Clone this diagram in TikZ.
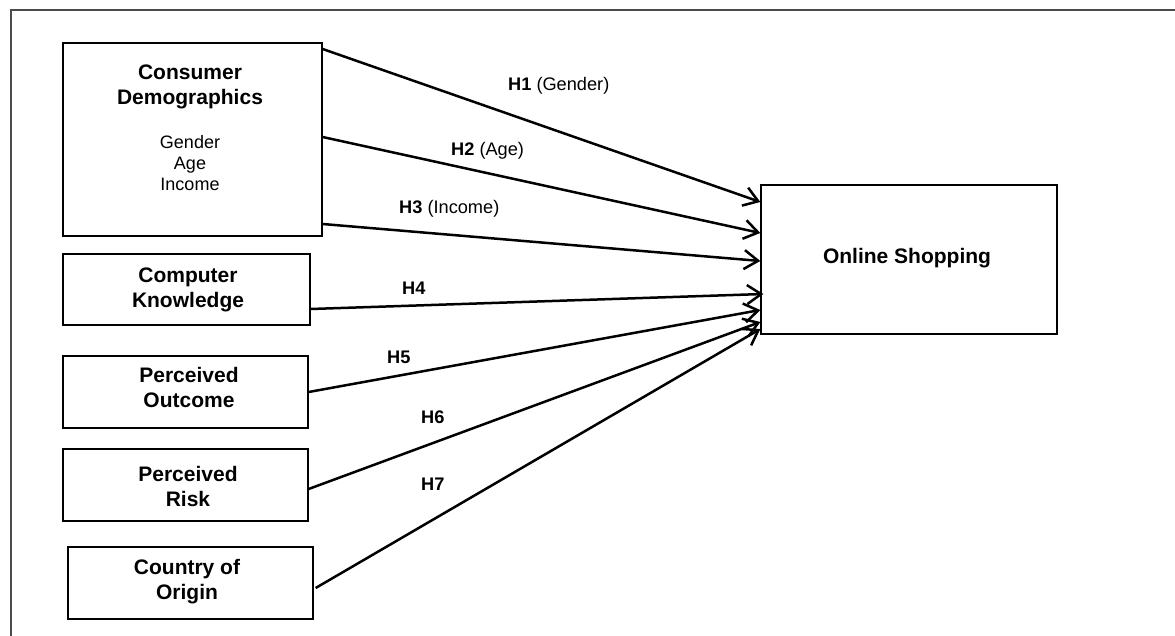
\documentclass[tikz,border=0pt]{standalone}
\usepackage{fontspec}
\setmainfont{Liberation Sans}
\usetikzlibrary{arrows.meta}
\begin{document}
\begin{tikzpicture}[x=1pt,y=-1pt,
  box/.style={draw, line width=1.3pt, inner sep=0pt},
  title/.style={font=\fontsize{21}{25}\selectfont\bfseries, align=center, inner sep=0pt},
  items/.style={font=\fontsize{18}{21}\selectfont, align=center, inner sep=0pt},
  hlabel/.style={font=\fontsize{18.2}{21}\selectfont, anchor=west, inner sep=0pt},
  conn/.style={line width=2.5pt, -{Straight Barb[length=14pt,width=19pt]}},
  frame/.style={draw=black!70, line width=1.5pt}]
\useasboundingbox (0,0) rectangle (1175,636);
% outer frame (top and left edges)
\coordinate (fa) at (11,10);
\coordinate (fb) at (1175,10);
\coordinate (fc) at (11,636);
\draw[frame] (fb) -- (fa) -- (fc);
% boxes
\node[box, minimum width=259, minimum height=193] (cd) at (192.5,139.5) {};
\node[box, minimum width=247, minimum height=71] (ck) at (186.5,289.5) {};
\node[box, minimum width=245, minimum height=72] (po) at (185.5,392) {};
\node[box, minimum width=245, minimum height=72] (pr) at (185.5,485) {};
\node[box, minimum width=245, minimum height=72] (co) at (190.5,583) {};
\node[box, minimum width=296, minimum height=149] (os) at (909,259.5) {};
% box texts
\node[title] (cdt) at (190,86.5) {Consumer\\Demographics};
\node[items] (cdi) at (190,163) {Gender\\Age\\Income};
\node[title] (ckt) at (188,289.5) {Computer\\Knowledge};
\node[title] (pot) at (189,387) {Perceived\\Outcome};
\node[title] (prt) at (188,486) {Perceived\\Risk};
\node[title] (cot) at (187,581.5) {Country of\\Origin};
\node[title] (ost) at (907,258) {Online Shopping};
% connector end points
\coordinate (s1) at (cd.east |- 0,49);
\coordinate (s2) at (cd.east |- 0,137);
\coordinate (s3) at (cd.east |- 0,224);
\coordinate (s4) at (ck.east |- 0,309);
\coordinate (s5) at (po.east |- 0,392);
\coordinate (s6) at (pr.east |- 0,489);
\coordinate (s7) at ([xshift=2pt]co.east |- 0,588);
\coordinate (e1) at (os.west |- 0,202);
\coordinate (e2) at (os.west |- 0,233);
\coordinate (e3) at (os.west |- 0,261);
\coordinate (e4) at ([xshift=3pt]os.west |- 0,294);
\coordinate (e5) at (os.west |- 0,310);
\coordinate (e6) at (os.west |- 0,322);
\coordinate (e7) at (os.west |- 0,329);
\draw[conn] (s1) -- (e1);
\draw[conn] (s2) -- (e2);
\draw[conn] (s3) -- (e3);
\draw[conn] (s4) -- (e4);
\draw[conn] (s5) -- (e5);
\draw[conn] (s6) -- (e6);
\draw[conn] (s7) -- (e7);
% labels
\node[hlabel] (l1) at (508,85.5) {\textbf{H1} (Gender)};
\node[hlabel] (l2) at (451,150.5) {\textbf{H2} (Age)};
\node[hlabel] (l3) at (399,208.5) {\textbf{H3} (Income)};
\node[hlabel] (l4) at (402,288) {\textbf{H4}};
\node[hlabel] (l5) at (387,357) {\textbf{H5}};
\node[hlabel] (l6) at (421,417) {\textbf{H6}};
\node[hlabel] (l7) at (421,484) {\textbf{H7}};
\end{tikzpicture}
\end{document}
